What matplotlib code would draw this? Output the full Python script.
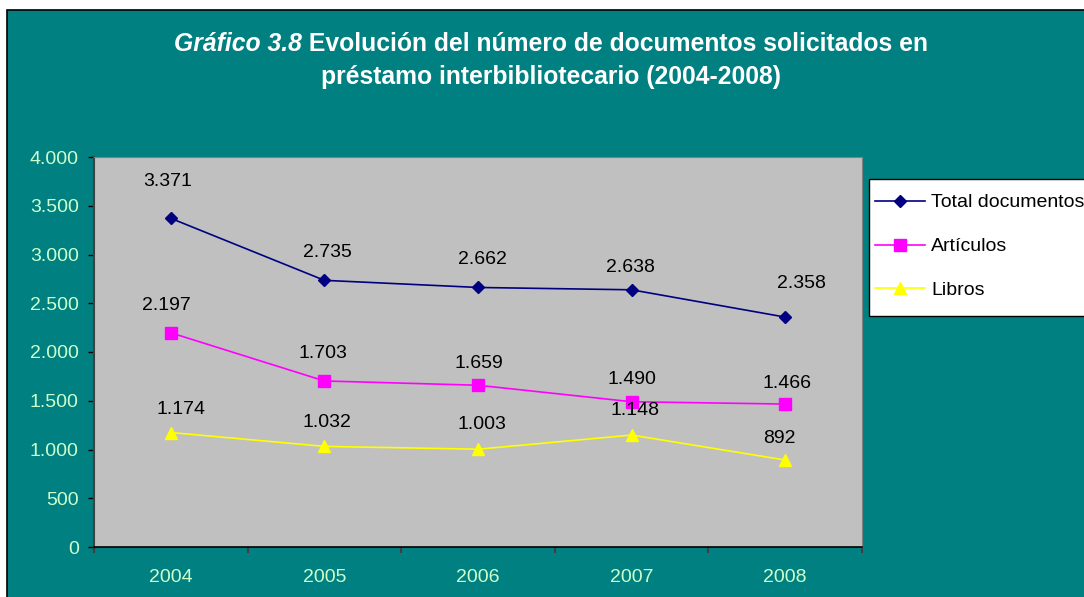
"""
Gráfico 3.8 - documentos solicitados en préstamo interbibliotecario (2004-2008)
"""

import matplotlib
matplotlib.use('Agg')
import matplotlib.pyplot as plt
from matplotlib.patches import Rectangle

# ------------ DATA -------------- #
years = ['2004', '2005', '2006', '2007', '2008']
total_docs = [3371, 2735, 2662, 2638, 2358]
articulos = [2197, 1703, 1659, 1490, 1466]
libros = [1174, 1032, 1003, 1148, 892]
series_names = ['Total documentos', 'Artículos', 'Libros']

# label offsets (pixels, dx / dy above point), as placed in the original
total_off = [(-3, 37), (3, 28), (4, 28), (-1, 22), (16, 34)]
art_off = [(-4, 27), (-1, 27), (1, 22), (0, 22), (2, 21)]
lib_off = [(10, 23), (3, 24), (4, 25), (3, 25), (-6, 22)]

# ------------ STYLE -------------- #
W, H = 1084, 597
teal = '#008080'
tick_col = '#CCFFCC'
plt.rcParams['font.family'] = ['Liberation Sans', 'DejaVu Sans']

fig = plt.figure(figsize=(W / 100, H / 100), dpi=100)
fig.patch.set_facecolor('white')

# teal chart area with black frame (behind the axes)
fig.patches.append(Rectangle((7 / W, -0.05), 1.1, (H - 10) / H + 0.05,
                             transform=fig.transFigure, facecolor=teal,
                             edgecolor='black', linewidth=1.2, zorder=-5))
# legend box (runs off the right edge, as in the original)
fig.patches.append(Rectangle((869 / W, 1 - 316 / H), 0.2, (316 - 179) / H,
                             transform=fig.transFigure, facecolor='white',
                             edgecolor='black', linewidth=1.0, zorder=-4))

ax = fig.add_axes([94 / W, (H - 547) / H, (862 - 94) / W, (547 - 157) / H])
ax.set_zorder(1)
ax.set_facecolor('#C0C0C0')

x = list(range(len(years)))
ax.plot(x, total_docs, color='#000080', marker='D', markersize=6, lw=1.2,
        label=series_names[0])
ax.plot(x, articulos, color='#FF00FF', marker='s', markersize=8, lw=1.2,
        label=series_names[1])
ax.plot(x, libros, color='#FFFF00', marker='^', markersize=9, lw=1.2,
        label=series_names[2])

def fmt(v):
    return f'{v:,}'.replace(',', '.')

for vals, offs in [(total_docs, total_off), (articulos, art_off), (libros, lib_off)]:
    for i, v in enumerate(vals):
        dx, dy = offs[i]
        ax.annotate(fmt(v), (i, v), xytext=(dx * 0.72, dy * 0.72),
                    textcoords='offset points', ha='center', va='center',
                    fontsize=14, color='black')

ax.set_xlim(-0.5, len(years) - 0.5)
ax.set_ylim(0, 4000)
ax.set_yticks(range(0, 4001, 500))
ax.set_yticklabels([fmt(v) for v in range(0, 4001, 500)])
ax.set_xticks(x)
ax.set_xticklabels(years)
ax.set_xticks([i - 0.5 for i in range(len(years) + 1)], minor=True)

ax.tick_params(axis='y', direction='out', length=4.5, width=1, color='black',
               labelcolor=tick_col, labelsize=14, pad=6.5)
ax.tick_params(axis='x', which='major', length=0, labelcolor=tick_col,
               labelsize=14, pad=16)
ax.tick_params(axis='x', which='minor', direction='out', length=4, width=1.5,
               color='#404040')

ax.spines['left'].set_color('#404040')
ax.spines['left'].set_linewidth(1.5)
ax.spines['bottom'].set_color('black')
ax.spines['bottom'].set_linewidth(1.2)
ax.spines['top'].set_color('#808080')
ax.spines['right'].set_color('#808080')

leg = fig.legend(loc='upper left', bbox_to_anchor=(869 / W, 1 - 188 / H),
                 fontsize=14, frameon=False, borderaxespad=0,
                 borderpad=0.3, labelspacing=1.35, handlelength=2.6,
                 handletextpad=0.3)

# ------------ TITLE -------------- #
t_size = 17.8
t_ital = fig.text(0, 1 - 44 / H, 'Gráfico 3.8', fontsize=t_size, fontweight='bold',
                  fontstyle='italic', color='white', va='center', ha='left')
t_rest = fig.text(0, 1 - 44 / H, ' Evolución del número de documentos solicitados en',
                  fontsize=t_size, fontweight='bold', color='white', va='center', ha='left')
fig.text(551 / W, 1 - 77 / H, 'préstamo interbibliotecario (2004-2008)', fontsize=t_size,
         fontweight='bold', color='white', va='center', ha='center')

fig.canvas.draw()
r = fig.canvas.get_renderer()
w1 = t_ital.get_window_extent(r).width
w2 = t_rest.get_window_extent(r).width
x0 = 551 - (w1 + w2) / 2
t_ital.set_x(x0 / W)
t_rest.set_x((x0 + w1) / W)

fig.savefig('out.png', dpi=100, facecolor=fig.get_facecolor())
